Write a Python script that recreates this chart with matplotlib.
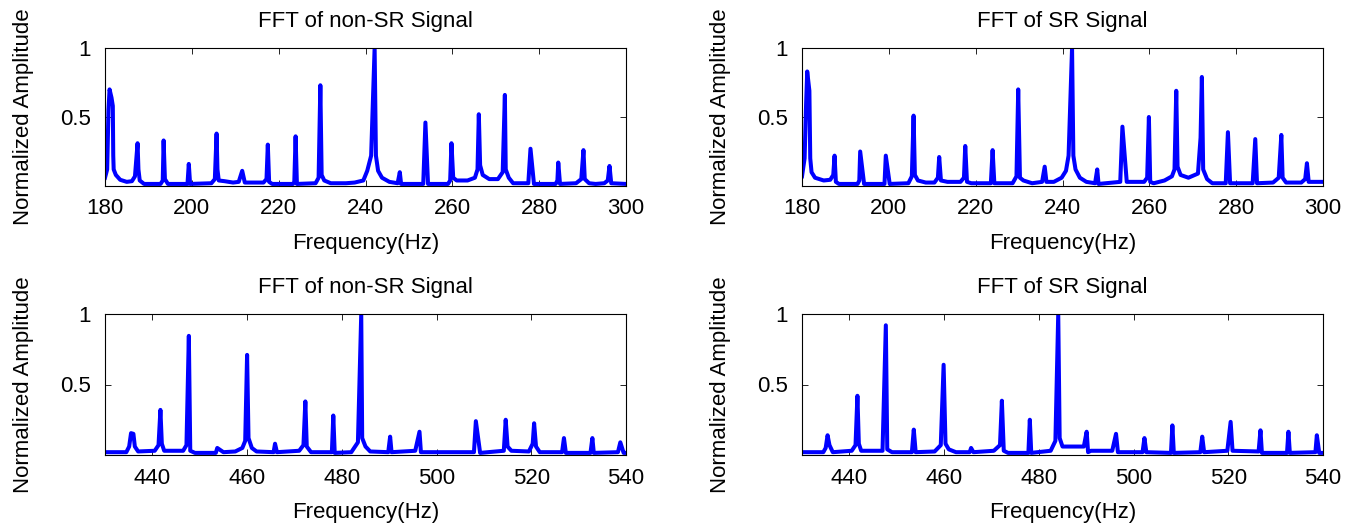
import matplotlib
matplotlib.use("Agg")
import matplotlib.pyplot as plt
import numpy as np

plt.rcParams["font.family"] = ["Liberation Sans", "DejaVu Sans"]
plt.rcParams["font.size"] = 16

# (frequency Hz, normalized amplitude)
low_non_sr = [
    (180.0, 0.06), (180.5, 0.12), (180.8, 0.55), (181.05, 0.70), (181.5, 0.64),
    (181.8, 0.58), (181.9, 0.22), (182.0, 0.12), (182.5, 0.08), (183.5, 0.045),
    (185.0, 0.03), (186.2, 0.035), (186.9, 0.07), (187.5, 0.31), (187.7, 0.12),
    (188.0, 0.04), (189.0, 0.015), (192.8, 0.015), (193.3, 0.04), (193.5, 0.33),
    (193.8, 0.05), (194.5, 0.015), (199.0, 0.015), (199.3, 0.16), (199.6, 0.015),
    (204.5, 0.02), (205.3, 0.05), (205.7, 0.38), (205.9, 0.12), (206.2, 0.04),
    (207.5, 0.035), (209.5, 0.025), (210.8, 0.03), (211.6, 0.11), (212.2, 0.025),
    (216.5, 0.025), (217.2, 0.05), (217.5, 0.30), (217.8, 0.03), (218.5, 0.015),
    (223.3, 0.015), (223.6, 0.03), (223.9, 0.36), (224.2, 0.015), (228.5, 0.02),
    (229.2, 0.06), (229.6, 0.73), (229.9, 0.08), (230.5, 0.04), (232.0, 0.02),
    (235.5, 0.02), (237.5, 0.025), (239.5, 0.04), (240.4, 0.11), (241.3, 0.22),
    (242.1, 1.0), (242.4, 0.22), (242.9, 0.11), (243.8, 0.06), (245.5, 0.03),
    (247.4, 0.02), (247.9, 0.10), (248.2, 0.015), (253.3, 0.015), (253.8, 0.46),
    (254.4, 0.015), (259.0, 0.015), (259.5, 0.04), (259.8, 0.31), (260.2, 0.06),
    (261.0, 0.04), (263.5, 0.04), (265.2, 0.06), (265.8, 0.12), (266.1, 0.52),
    (266.4, 0.15), (267.0, 0.08), (268.5, 0.05), (270.5, 0.05), (271.6, 0.10),
    (272.1, 0.66), (272.3, 0.12), (273.0, 0.06), (274.0, 0.02), (277.5, 0.02),
    (278.0, 0.27), (278.8, 0.015), (283.8, 0.015), (284.2, 0.04), (284.4, 0.17),
    (284.8, 0.015), (288.5, 0.02), (289.7, 0.05), (290.2, 0.26), (290.5, 0.05),
    (291.5, 0.02), (293.0, 0.015), (295.0, 0.02), (295.8, 0.04), (296.2, 0.145),
    (296.6, 0.02), (300.0, 0.015),
]

low_sr = [
    (180.0, 0.07), (180.6, 0.20), (180.95, 0.60), (181.2, 0.83), (181.7, 0.69),
    (181.9, 0.20), (182.2, 0.10), (183.0, 0.06), (185.0, 0.04), (186.5, 0.045),
    (187.2, 0.08), (187.5, 0.22), (187.8, 0.03), (188.5, 0.015), (192.8, 0.015),
    (193.2, 0.04), (193.4, 0.25), (194.3, 0.015), (199.0, 0.015), (199.3, 0.22),
    (200.2, 0.015), (204.5, 0.02), (205.3, 0.07), (205.7, 0.51), (206.0, 0.08),
    (206.7, 0.04), (208.5, 0.025), (210.5, 0.025), (211.3, 0.06), (211.6, 0.21),
    (212.0, 0.04), (213.5, 0.03), (216.5, 0.03), (217.3, 0.06), (217.6, 0.29),
    (218.0, 0.03), (219.0, 0.02), (223.5, 0.02), (223.9, 0.26), (224.3, 0.02),
    (228.5, 0.02), (229.4, 0.07), (229.8, 0.70), (230.2, 0.06), (231.0, 0.04),
    (233.0, 0.02), (235.3, 0.03), (235.9, 0.14), (236.3, 0.03), (238.0, 0.03),
    (239.8, 0.06), (240.8, 0.11), (241.4, 0.22), (242.2, 1.0), (242.5, 0.22),
    (243.0, 0.12), (244.0, 0.06), (245.5, 0.03), (247.5, 0.02), (248.0, 0.12),
    (248.3, 0.015), (253.3, 0.03), (253.8, 0.43), (254.8, 0.03), (256.0, 0.03),
    (258.8, 0.03), (259.5, 0.06), (259.9, 0.50), (260.2, 0.03), (261.0, 0.02),
    (263.5, 0.04), (265.2, 0.07), (265.8, 0.12), (266.2, 0.69), (266.5, 0.14),
    (267.2, 0.08), (269.0, 0.06), (271.2, 0.09), (271.8, 0.35), (272.1, 0.79),
    (272.4, 0.12), (273.3, 0.05), (274.5, 0.02), (277.6, 0.02), (278.1, 0.39),
    (278.6, 0.02), (283.8, 0.02), (284.4, 0.34), (284.8, 0.02), (288.5, 0.025),
    (289.8, 0.06), (290.4, 0.37), (290.7, 0.06), (291.5, 0.025), (295.0, 0.025),
    (295.9, 0.05), (296.3, 0.165), (296.7, 0.03), (300.0, 0.03),
]

high_non_sr = [
    (430.0, 0.02), (434.5, 0.02), (435.1, 0.06), (435.5, 0.155), (436.0, 0.15),
    (436.3, 0.06), (437.0, 0.025), (440.5, 0.03), (441.3, 0.07), (441.7, 0.32),
    (442.0, 0.08), (442.5, 0.03), (446.5, 0.03), (447.2, 0.07), (447.7, 0.845),
    (448.0, 0.03), (449.0, 0.015), (453.4, 0.015), (453.7, 0.05), (455.0, 0.02),
    (457.5, 0.025), (459.0, 0.05), (459.6, 0.10), (460.0, 0.71), (460.3, 0.12),
    (461.0, 0.05), (462.0, 0.025), (465.6, 0.02), (465.9, 0.08), (466.3, 0.02),
    (471.0, 0.03), (471.9, 0.07), (472.3, 0.38), (472.6, 0.06), (473.5, 0.02),
    (477.9, 0.02), (478.2, 0.28), (478.5, 0.015), (482.0, 0.02), (483.4, 0.09),
    (484.1, 1.0), (484.3, 0.12), (485.0, 0.06), (486.0, 0.025), (489.8, 0.02),
    (490.2, 0.13), (490.5, 0.02), (495.5, 0.03), (496.4, 0.165), (496.7, 0.02),
    (507.9, 0.02), (508.3, 0.24), (509.2, 0.015), (514.2, 0.03), (514.6, 0.25),
    (515.0, 0.06), (515.8, 0.03), (519.5, 0.025), (520.3, 0.08), (520.6, 0.225),
    (521.0, 0.06), (521.8, 0.02), (526.5, 0.02), (526.9, 0.12), (527.3, 0.015),
    (532.5, 0.015), (532.9, 0.12), (533.2, 0.015), (538.3, 0.02), (538.8, 0.09),
    (539.5, 0.015), (540.0, 0.015),
]

high_sr = [
    (430.0, 0.02), (434.5, 0.02), (435.0, 0.05), (435.4, 0.14), (435.8, 0.07),
    (436.5, 0.02), (440.5, 0.03), (441.3, 0.07), (441.7, 0.42), (442.0, 0.08),
    (442.5, 0.03), (447.0, 0.03), (447.7, 0.92), (448.0, 0.04), (449.0, 0.02),
    (453.2, 0.02), (453.6, 0.18), (454.0, 0.02), (458.0, 0.025), (459.3, 0.07),
    (459.9, 0.64), (460.3, 0.08), (461.0, 0.04), (462.5, 0.02), (465.4, 0.02),
    (465.7, 0.05), (466.2, 0.02), (470.5, 0.03), (471.8, 0.07), (472.2, 0.385),
    (472.6, 0.03), (473.5, 0.015), (477.8, 0.015), (478.1, 0.25), (478.4, 0.015),
    (482.5, 0.03), (483.5, 0.10), (484.1, 1.0), (484.4, 0.12), (485.0, 0.06),
    (489.5, 0.06), (490.1, 0.165), (490.4, 0.02), (491.0, 0.03), (495.5, 0.03),
    (496.3, 0.15), (496.7, 0.02), (501.9, 0.02), (502.3, 0.12), (502.7, 0.02),
    (507.9, 0.015), (508.2, 0.21), (508.5, 0.015), (514.1, 0.02), (514.5, 0.13),
    (514.9, 0.02), (519.8, 0.03), (520.5, 0.235), (520.9, 0.03), (526.4, 0.025),
    (526.8, 0.175), (527.1, 0.015), (532.4, 0.015), (532.7, 0.165), (533.0, 0.015),
    (538.4, 0.02), (538.7, 0.14), (539.2, 0.015), (540.0, 0.015),
]

titles = ["FFT of non-SR Signal", "FFT of SR Signal"]
low_xticks = [180, 200, 220, 240, 260, 280, 300]
high_xticks = [440, 460, 480, 500, 520, 540]
yticks = [0.5, 1]
ytick_labels = ["0.5", "1"]

W, H = 1357, 526
fig = plt.figure(figsize=(W / 100, H / 100), dpi=100)


def px_axes(x0, y0, x1, y1):
    return fig.add_axes([x0 / W, 1 - y1 / H, (x1 - x0) / W, (y1 - y0) / H])


panels = [
    (px_axes(105, 48, 626, 186), low_non_sr, titles[0], (180, 300), low_xticks),
    (px_axes(802, 48, 1323, 186), low_sr, titles[1], (180, 300), low_xticks),
    (px_axes(105, 314, 626, 455), high_non_sr, titles[0], (430, 540), high_xticks),
    (px_axes(802, 314, 1323, 455), high_sr, titles[1], (430, 540), high_xticks),
]

for ax, points, title, xlim, xticks in panels:
    f, a = np.array(points).T
    ax.plot(f, a, color="#0000ff", linewidth=2.9, solid_joinstyle="round")
    ax.set_xlim(*xlim)
    ax.set_ylim(0, 1)
    ax.set_xticks(xticks)
    ax.set_yticks(yticks)
    ax.set_yticklabels(ytick_labels)
    ax.tick_params(direction="in", top=True, right=True, length=4, width=0.6)
    ax.tick_params(axis="x", pad=9)
    ax.tick_params(axis="y", pad=10)
    for spine in ax.spines.values():
        spine.set_linewidth(0.8)
    ax.set_title(title, fontsize=16, pad=15)
    ax.set_xlabel("Frequency(Hz)", labelpad=10)
    ax.set_ylabel("Normalized Amplitude", labelpad=19)

fig.savefig("out.png", dpi=100)
